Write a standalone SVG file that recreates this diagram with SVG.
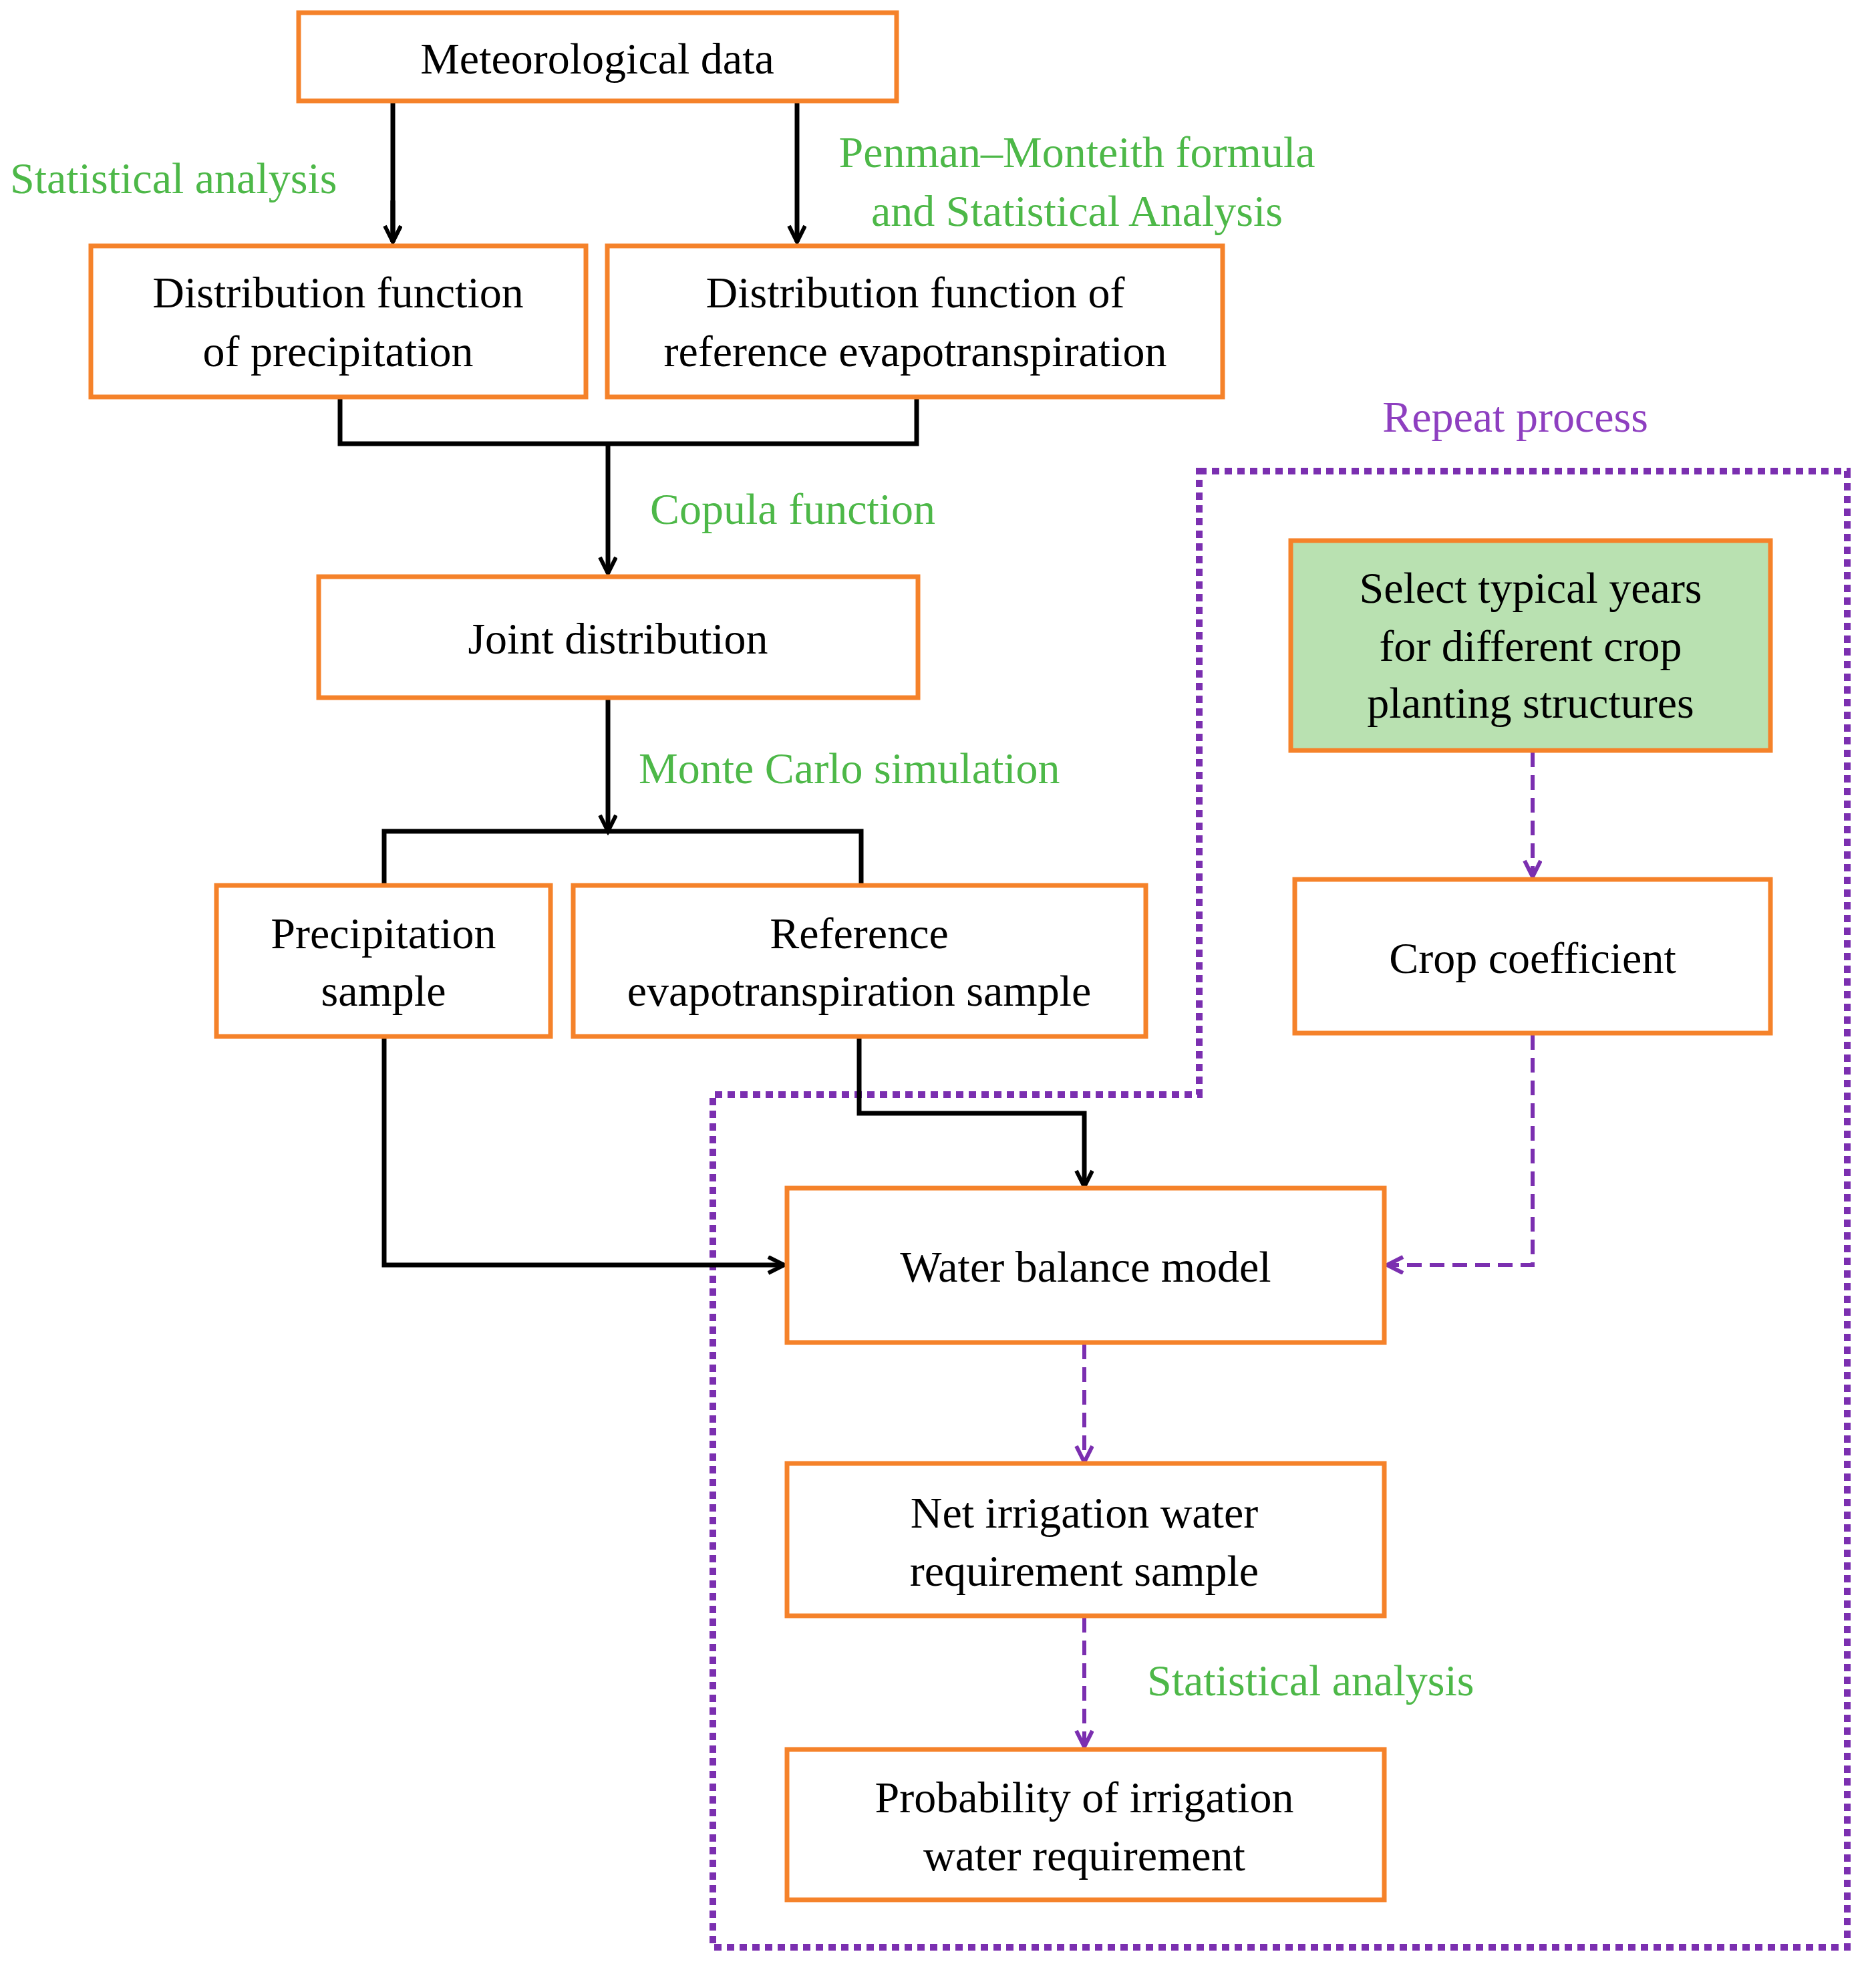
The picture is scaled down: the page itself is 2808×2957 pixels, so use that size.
<svg xmlns="http://www.w3.org/2000/svg" width="2808" height="2957" viewBox="0 0 2808 2957">
<defs>
<style>
.b{fill:#fff;stroke:#F5822A;stroke-width:7}
.t{font-family:"Liberation Serif",serif;font-size:66px;fill:#000;text-anchor:middle}
.g{font-family:"Liberation Serif",serif;font-size:66px;fill:#4DB848}
.k{fill:none;stroke:#000;stroke-width:7}
.p{fill:none;stroke:#7B2FB0;stroke-width:6;stroke-dasharray:22 12}
</style>
<marker id="ak" markerWidth="32" markerHeight="32" refX="26" refY="14" orient="auto" markerUnits="userSpaceOnUse"><path d="M2,2 L26,14 L2,26" fill="none" stroke="#000" stroke-width="6"/></marker>
<marker id="ap" markerWidth="32" markerHeight="32" refX="26" refY="14" orient="auto" markerUnits="userSpaceOnUse"><path d="M2,2 L26,14 L2,26" fill="none" stroke="#7B2FB0" stroke-width="6"/></marker>
</defs>
<rect width="2808" height="2957" fill="#fff"/>
<path d="M1795,705 L2765,705 L2765,2914 L1067,2914 L1067,1638 L1795,1638 Z" fill="none" stroke="#7B2FB0" stroke-width="10" stroke-dasharray="11 8"/>
<g id="connectors">
<path class="k" d="M588,151 V362"/><path class="k" d="M588,300 V362" marker-end="url(#ak)"/>
<path class="k" d="M1193,151 V362" marker-end="url(#ak)"/>
<path class="k" d="M509,594 V664 H1372 V594"/>
<path class="k" d="M910,664 V858" marker-end="url(#ak)"/>
<path class="k" d="M910,1044 V1244" marker-end="url(#ak)"/>
<path class="k" d="M575,1325 V1244 H1289 V1325"/>
<path class="k" d="M1286,1551 V1666 H1623 V1776" marker-end="url(#ak)"/>
<path class="k" d="M575,1551 V1893 H1174" marker-end="url(#ak)"/>
<path class="p" d="M1623,2012 V2188" marker-end="url(#ap)"/>
<path class="p" d="M1623,2421 V2614" marker-end="url(#ap)"/>
<path class="p" d="M2294,1126 V1312" marker-end="url(#ap)"/>
<path class="p" d="M2294,1549 V1893 H2076" marker-end="url(#ap)"/>
</g>
<g id="n1"><rect class="b" x="447" y="19" width="895" height="132"/><text class="t" x="894" y="110">Meteorological data</text></g>
<g id="n2"><rect class="b" x="136" y="368" width="741" height="226"/><text class="t" x="506" y="460">Distribution function</text><text class="t" x="506" y="548">of precipitation</text></g>
<g id="n3"><rect class="b" x="909" y="368" width="921" height="226"/><text class="t" x="1370" y="460">Distribution function of</text><text class="t" x="1370" y="548">reference evapotranspiration</text></g>
<g id="n4"><rect class="b" x="477" y="863" width="897" height="181"/><text class="t" x="925" y="978">Joint distribution</text></g>
<g id="n5"><rect class="b" x="324" y="1325" width="500" height="226"/><text class="t" x="574" y="1419">Precipitation</text><text class="t" x="574" y="1505">sample</text></g>
<g id="n6"><rect class="b" x="858" y="1325" width="857" height="226"/><text class="t" x="1286" y="1419">Reference</text><text class="t" x="1286" y="1505">evapotranspiration sample</text></g>
<g id="n7"><rect x="1932" y="809" width="718" height="314" fill="#B9E1B1" stroke="#F5822A" stroke-width="7"/><text class="t" x="2291" y="902">Select typical years</text><text class="t" x="2291" y="989">for different crop</text><text class="t" x="2291" y="1074">planting structures</text></g>
<g id="n8"><rect class="b" x="1938" y="1316" width="712" height="230"/><text class="t" x="2294" y="1456">Crop coefficient</text></g>
<g id="n9"><rect class="b" x="1178" y="1778" width="894" height="231"/><text class="t" x="1625" y="1918">Water balance model</text></g>
<g id="n10"><rect class="b" x="1178" y="2190" width="894" height="228"/><text class="t" x="1623" y="2286">Net irrigation water</text><text class="t" x="1623" y="2373">requirement sample</text></g>
<g id="n11"><rect class="b" x="1178" y="2618" width="894" height="225"/><text class="t" x="1623" y="2712">Probability of irrigation</text><text class="t" x="1623" y="2799">water requirement</text></g>
<g id="labels">
<text class="g" x="15" y="289">Statistical analysis</text>
<text class="g" x="1612" y="250" text-anchor="middle">Penman–Monteith formula</text>
<text class="g" x="1612" y="338" text-anchor="middle">and Statistical Analysis</text>
<text class="g" x="973" y="784">Copula function</text>
<text class="g" x="956" y="1172">Monte Carlo simulation</text>
<text class="g" x="1717" y="2537">Statistical analysis</text>
<text x="2268" y="646" font-family="Liberation Serif,serif" font-size="66" fill="#8E3FC0" text-anchor="middle">Repeat process</text>
</g>
</svg>
